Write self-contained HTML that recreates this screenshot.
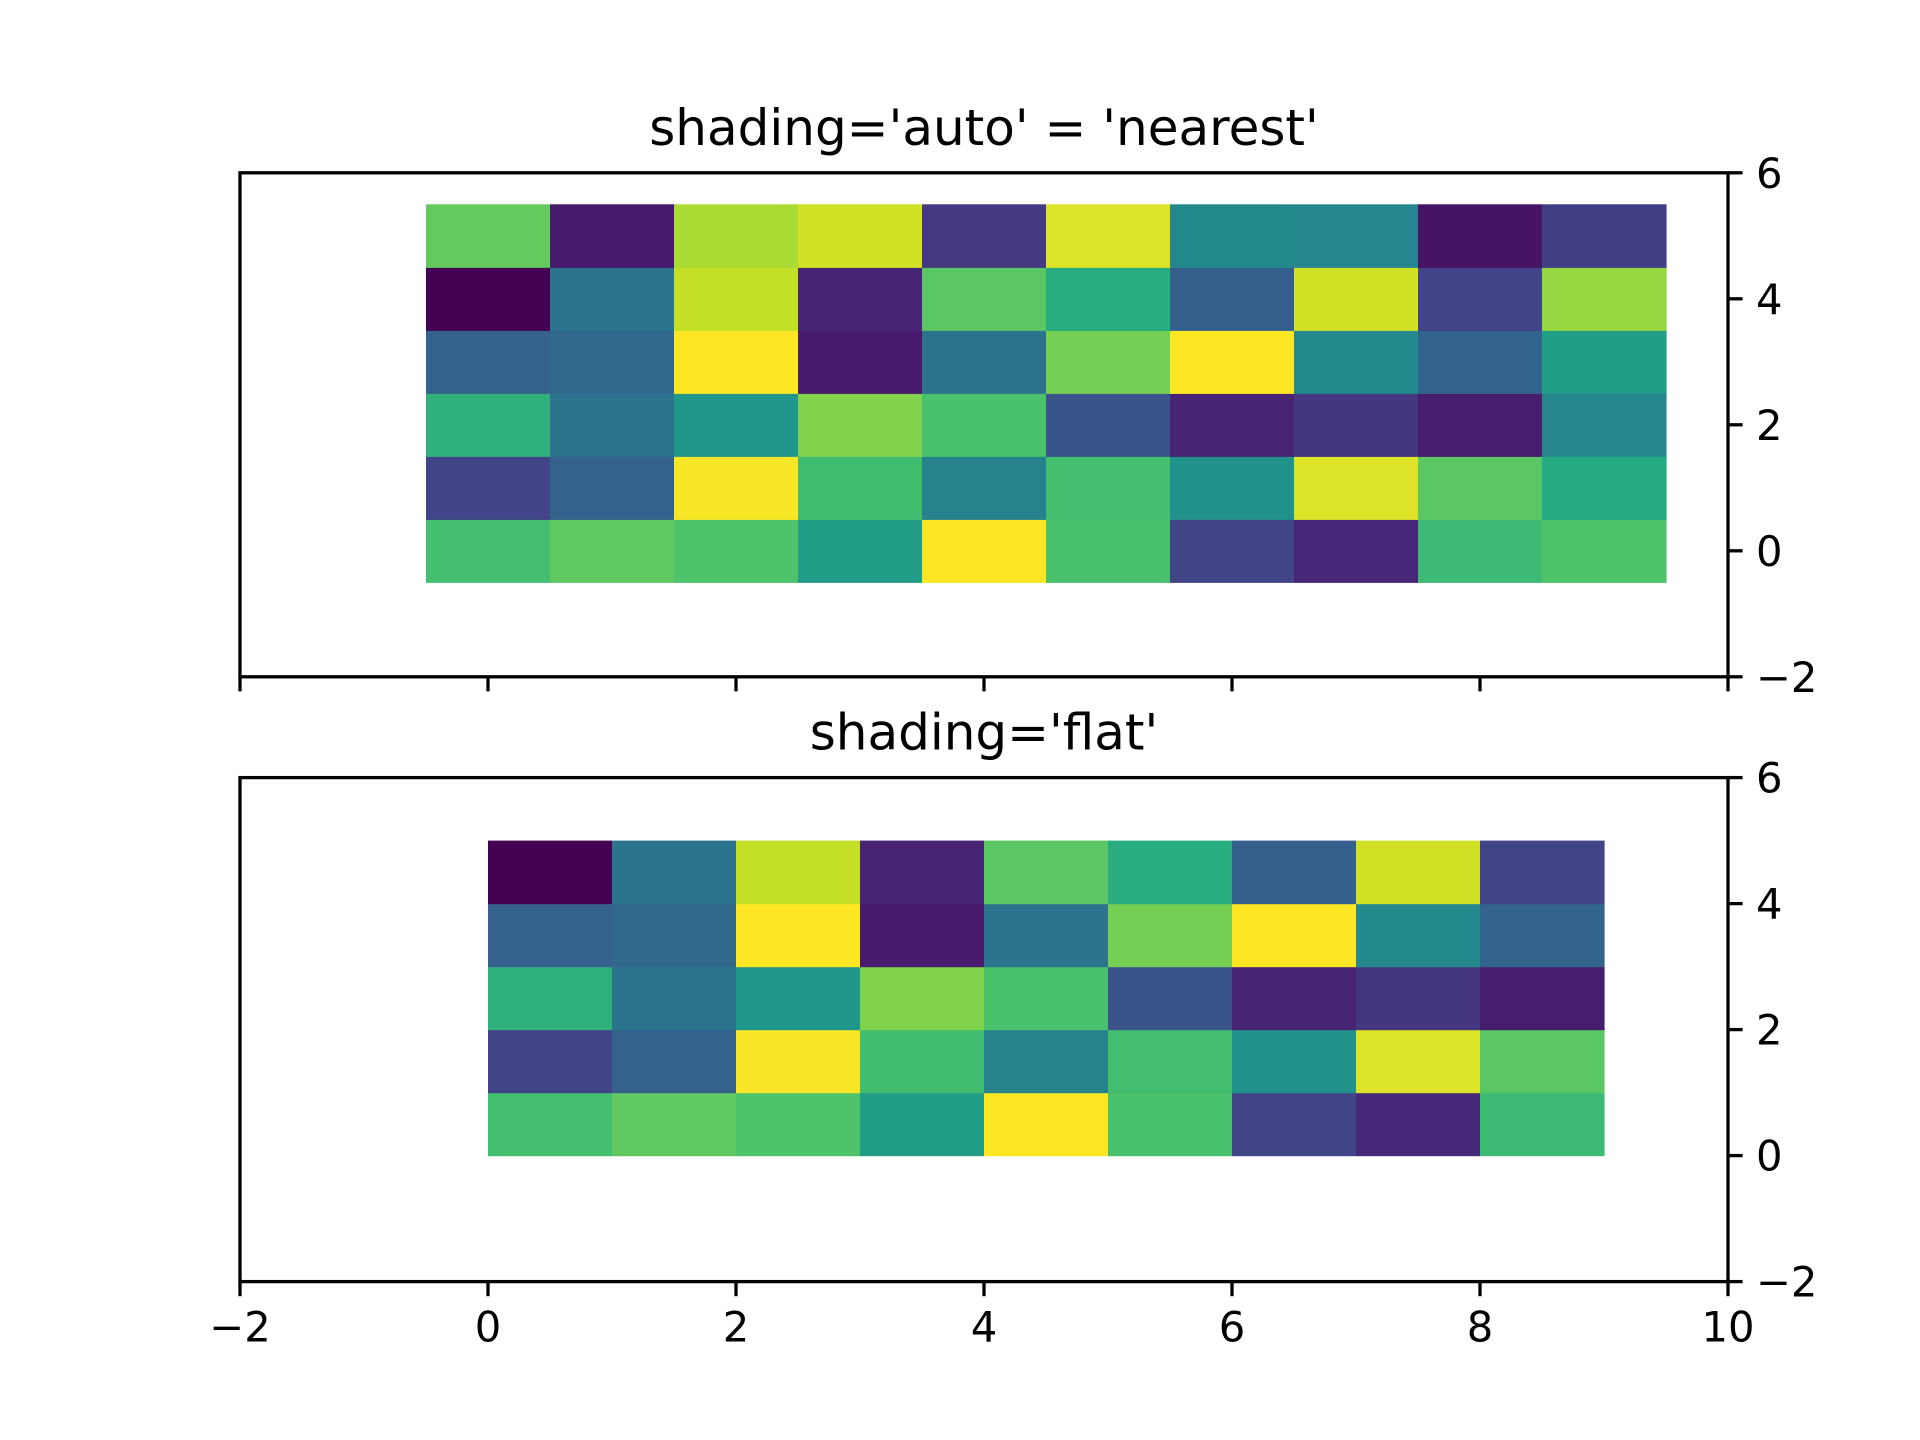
<!DOCTYPE html>
<html><head><meta charset="utf-8">
<style>html,body{margin:0;padding:0;background:#fff}svg{display:block}text{font-family:"DejaVu Sans","Liberation Sans",sans-serif;fill:#000}</style>
</head><body>
<svg id="fig" width="1920" height="1440" viewBox="0 0 1920 1440" xmlns="http://www.w3.org/2000/svg"></svg>
<script>
// data: rows y=0..5 (bottom to top), columns x=0..9
const zRow0 = [0.70,0.75,0.72,0.55,1.00,0.71,0.20,0.11,0.68,0.72];
const zRow1 = [0.20,0.31,0.99,0.69,0.44,0.70,0.50,0.95,0.74,0.61];
const zRow2 = [0.64,0.38,0.52,0.81,0.71,0.26,0.10,0.16,0.08,0.46];
const zRow3 = [0.31,0.34,1.00,0.07,0.38,0.79,1.00,0.47,0.32,0.55];
const zRow4 = [0.00,0.38,0.91,0.10,0.74,0.62,0.30,0.93,0.20,0.84];
const zRow5 = [0.76,0.07,0.87,0.93,0.17,0.95,0.47,0.46,0.05,0.18];
const Z = [zRow0,zRow1,zRow2,zRow3,zRow4,zRow5];
const xTicks = [-2,0,2,4,6,8,10];
const yTicks = [-2,0,2,4,6];
const titles = ["shading='auto' = 'nearest'","shading='flat'"];

const NS="http://www.w3.org/2000/svg";
const svg=document.getElementById('fig');
const vir=["#440154","#482475","#414487","#355f8d","#2a788e","#21918c","#22a884","#44bf70","#7ad151","#bddf26","#fde725"];
function hex(h){return [1,3,5].map(i=>parseInt(h.substr(i,2),16));}
function cmap(v){v=Math.max(0,Math.min(1,v));const p=v*10,i=Math.min(9,Math.floor(p)),t=p-i;const a=hex(vir[i]),b=hex(vir[i+1]);return `rgb(${a.map((c,k)=>Math.round(c+(b[k]-c)*t)).join(',')})`;}
function mk(tag,attrs,parent){const e=document.createElementNS(NS,tag);for(const k in attrs)e.setAttribute(k,attrs[k]);(parent||svg).appendChild(e);return e;}
const L=240,R=1728;
const axesTops=[172.8,777.6],H=504;
const xs=x=>L+(x+2)/12*(R-L);
axesTops.forEach((top,ai)=>{
  const ys=y=>top+H-(y+2)/8*H;
  const g=mk('g',{});
  
  
  const nr=ai==0?6:5, nc=ai==0?10:9, off=ai==0?-0.5:0;
  for(let r=0;r<nr;r++)for(let c=0;c<nc;c++){
    const x0=xs(c+off),x1=xs(c+off+1),y0=ys(r+off+1),y1=ys(r+off);
    const rc=mk('rect',{x:x0,y:y0,width:x1-x0+0.6,height:y1-y0+0.6,fill:cmap(Z[r][c])},g);
    
    
  }
  const fr=mk('rect',{x:L,y:top,width:R-L,height:H,fill:'none',stroke:'#000','stroke-width':3.3},g);
  
  
  xTicks.forEach(v=>{
    const x=xs(v);
    const tk=mk('line',{x1:x,x2:x,y1:top+H,y2:top+H+14.6,stroke:'#000','stroke-width':3.3},g);
    
    
    if(ai==1){const t=mk('text',{x:x,y:top+H+60,'text-anchor':'middle','font-size':41.7},g);t.textContent=(v<0?'\u2212'+(-v):v);
      
      }
  });
  yTicks.forEach(v=>{
    const y=ys(v);
    const tk=mk('line',{x1:R,x2:R+14.6,y1:y,y2:y,stroke:'#000','stroke-width':3.3},g);
    
    
    const t=mk('text',{x:R+28,y:y+15,'font-size':41.7},g);t.textContent=(v<0?'\u2212'+(-v):v);
    
    
  });
  const tt=mk('text',{x:(L+R)/2,y:top-28,'text-anchor':'middle','font-size':50},g);tt.textContent=titles[ai];
  
  
});
</script>
</body></html>
